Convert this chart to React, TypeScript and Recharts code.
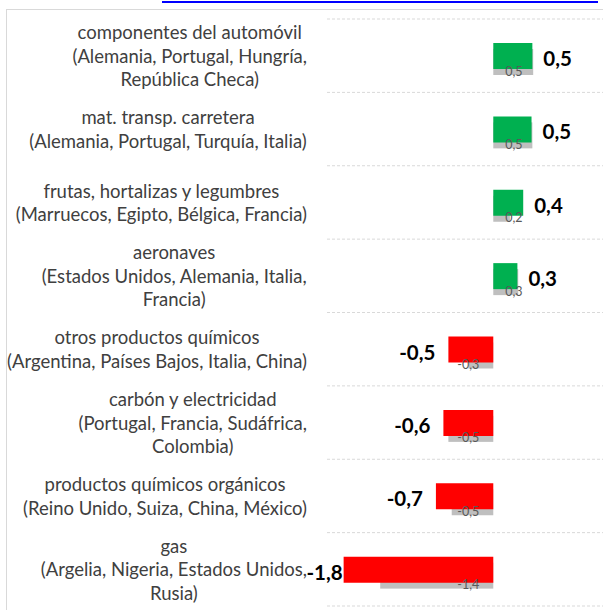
import { Bar, BarChart, CartesianGrid, Cell, LabelList, XAxis, YAxis } from "recharts";

// category labels, already broken into lines as in the source
const categories = [
  ["componentes del automóvil", "(Alemania, Portugal, Hungría,", "República Checa)"],
  ["mat. transp. carretera", "(Alemania, Portugal, Turquía, Italia)"],
  ["frutas, hortalizas y legumbres", "(Marruecos, Egipto, Bélgica, Francia)"],
  ["aeronaves", "(Estados Unidos, Alemania, Italia,", "Francia)"],
  ["otros productos químicos", "(Argentina, Países Bajos, Italia, China)"],
  ["carbón y electricidad", "(Portugal, Francia, Sudáfrica,", "Colombia)"],
  ["productos químicos orgánicos", "(Reino Unido, Suiza, China, México)"],
  ["gas", "(Argelia, Nigeria, Estados Unidos,", "Rusia)"],
];

const current = [0.47, 0.46, 0.36, 0.29, -0.54, -0.6, -0.69, -1.8];
const previous = [0.48, 0.47, 0.2, 0.3, -0.3, -0.54, -0.5, -1.36];

const data = categories.map((lines, i) => ({
  name: lines.join("\n"),
  current: current[i],
  previous: previous[i],
}));

const FONT = "Lato, 'Open Sans', sans-serif";
const LABEL_SIZE = 18.5;
const LINE_HEIGHT = 23.5;
const LABEL_RIGHT = 307;
const PLOT_LEFT = 327;
const GREY_SHIFT = 6;
const MAIN_SIZE = 20.5;

const fmt = (v: number) => v.toFixed(1).replace(".", ",");

let ctx: CanvasRenderingContext2D | null = null;
function textWidth(s: string, font = `${LABEL_SIZE}px Lato`) {
  if (!ctx) ctx = document.createElement("canvas").getContext("2d");
  if (!ctx) return s.length * 8;
  ctx.font = font;
  return ctx.measureText(s).width;
}

function CategoryTick(props: any) {
  const { y, payload } = props;
  const lines = String(payload.value).split("\n");
  const widest = Math.max(...lines.map((l) => textWidth(l)));
  const cx = LABEL_RIGHT - widest / 2;
  const top = y - ((lines.length - 1) * LINE_HEIGHT) / 2;
  return (
    <g>
      {lines.map((line, i) => (
        <text
          key={i}
          x={cx}
          y={top + i * LINE_HEIGHT}
          textAnchor="middle"
          dominantBaseline="central"
          fontFamily={FONT}
          fontSize={LABEL_SIZE}
          fill="#404040"
        >
          {line}
        </text>
      ))}
    </g>
  );
}

function GreyShape(props: any) {
  const { x, y, width, height } = props;
  return (
    <rect
      x={Math.min(x, x + width)}
      y={y + GREY_SHIFT}
      width={Math.abs(width)}
      height={height}
      fill="#bfbfbf"
    />
  );
}

function MainLabel(props: any) {
  const { x, y, width, height, value } = props;
  const left = Math.min(x, x + width);
  const right = Math.max(x, x + width);
  const pos = value >= 0;
  const txt = fmt(value);
  // label hugs the bar when there is no room left of the plot
  let gap = 13;
  if (!pos && left - gap - textWidth(txt, `bold ${MAIN_SIZE}px Lato`) < PLOT_LEFT - 25) gap = 1;
  return (
    <text
      x={pos ? right + 11 : left - gap}
      y={y + height / 2 + 2}
      textAnchor={pos ? "start" : "end"}
      dominantBaseline="central"
      fontFamily={FONT}
      fontWeight="bold"
      fontSize={MAIN_SIZE}
      fill="#000"
    >
      {txt}
    </text>
  );
}

function GreyLabel(props: any) {
  const { x, y, width, height, value } = props;
  const left = Math.min(x, x + width);
  const right = Math.max(x, x + width);
  const pos = value >= 0;
  return (
    <text
      x={pos ? left + 12 : right - 14}
      y={y + height + GREY_SHIFT - 4}
      textAnchor={pos ? "start" : "end"}
      dominantBaseline="central"
      fontFamily={FONT}
      fontSize={12.5}
      fill="#595959"
    >
      {fmt(value)}
    </text>
  );
}

export default function App() {
  const n = categories.length;
  return (
    <div
      style={{
        position: "absolute",
        left: 0,
        top: 0,
        width: 603,
        height: 610,
        overflow: "hidden",
        background: "#fff",
      }}
    >
      <div
        style={{
          position: "absolute",
          left: 162,
          top: 1,
          width: 436,
          borderTop: "2px solid #0000ff",
        }}
      />
      <div
        style={{
          position: "absolute",
          left: 6,
          top: 9,
          width: 700,
          height: 700,
          border: "1px solid #d9d9d9",
        }}
      />
      <div style={{ position: "absolute", left: 0, top: 0 }}>
        <BarChart
          width={618}
          height={620}
          layout="vertical"
          data={data}
          margin={{ top: 19, right: 0, bottom: 14, left: 0 }}
          barSize={26}
          barGap={-26}
        >
          <CartesianGrid
            vertical={false}
            stroke="#d9d9d9"
            strokeDasharray="3 2"
            horizontalCoordinatesGenerator={({ offset }: any) =>
              Array.from({ length: n + 1 }, (_, i) => offset.top + (i * offset.height) / n)
            }
          />
          <XAxis type="number" domain={[-2, 1.5]} hide />
          <YAxis
            type="category"
            dataKey="name"
            width={327}
            axisLine={false}
            tickLine={false}
            interval={0}
            tick={<CategoryTick />}
          />
          <Bar dataKey="previous" shape={<GreyShape />} isAnimationActive={false}>
            <LabelList dataKey="previous" content={<GreyLabel />} />
          </Bar>
          <Bar dataKey="current" isAnimationActive={false}>
            {data.map((d, i) => (
              <Cell key={i} fill={d.current >= 0 ? "#00b050" : "#ff0000"} />
            ))}
            <LabelList dataKey="current" content={<MainLabel />} />
          </Bar>
        </BarChart>
      </div>
    </div>
  );
}
